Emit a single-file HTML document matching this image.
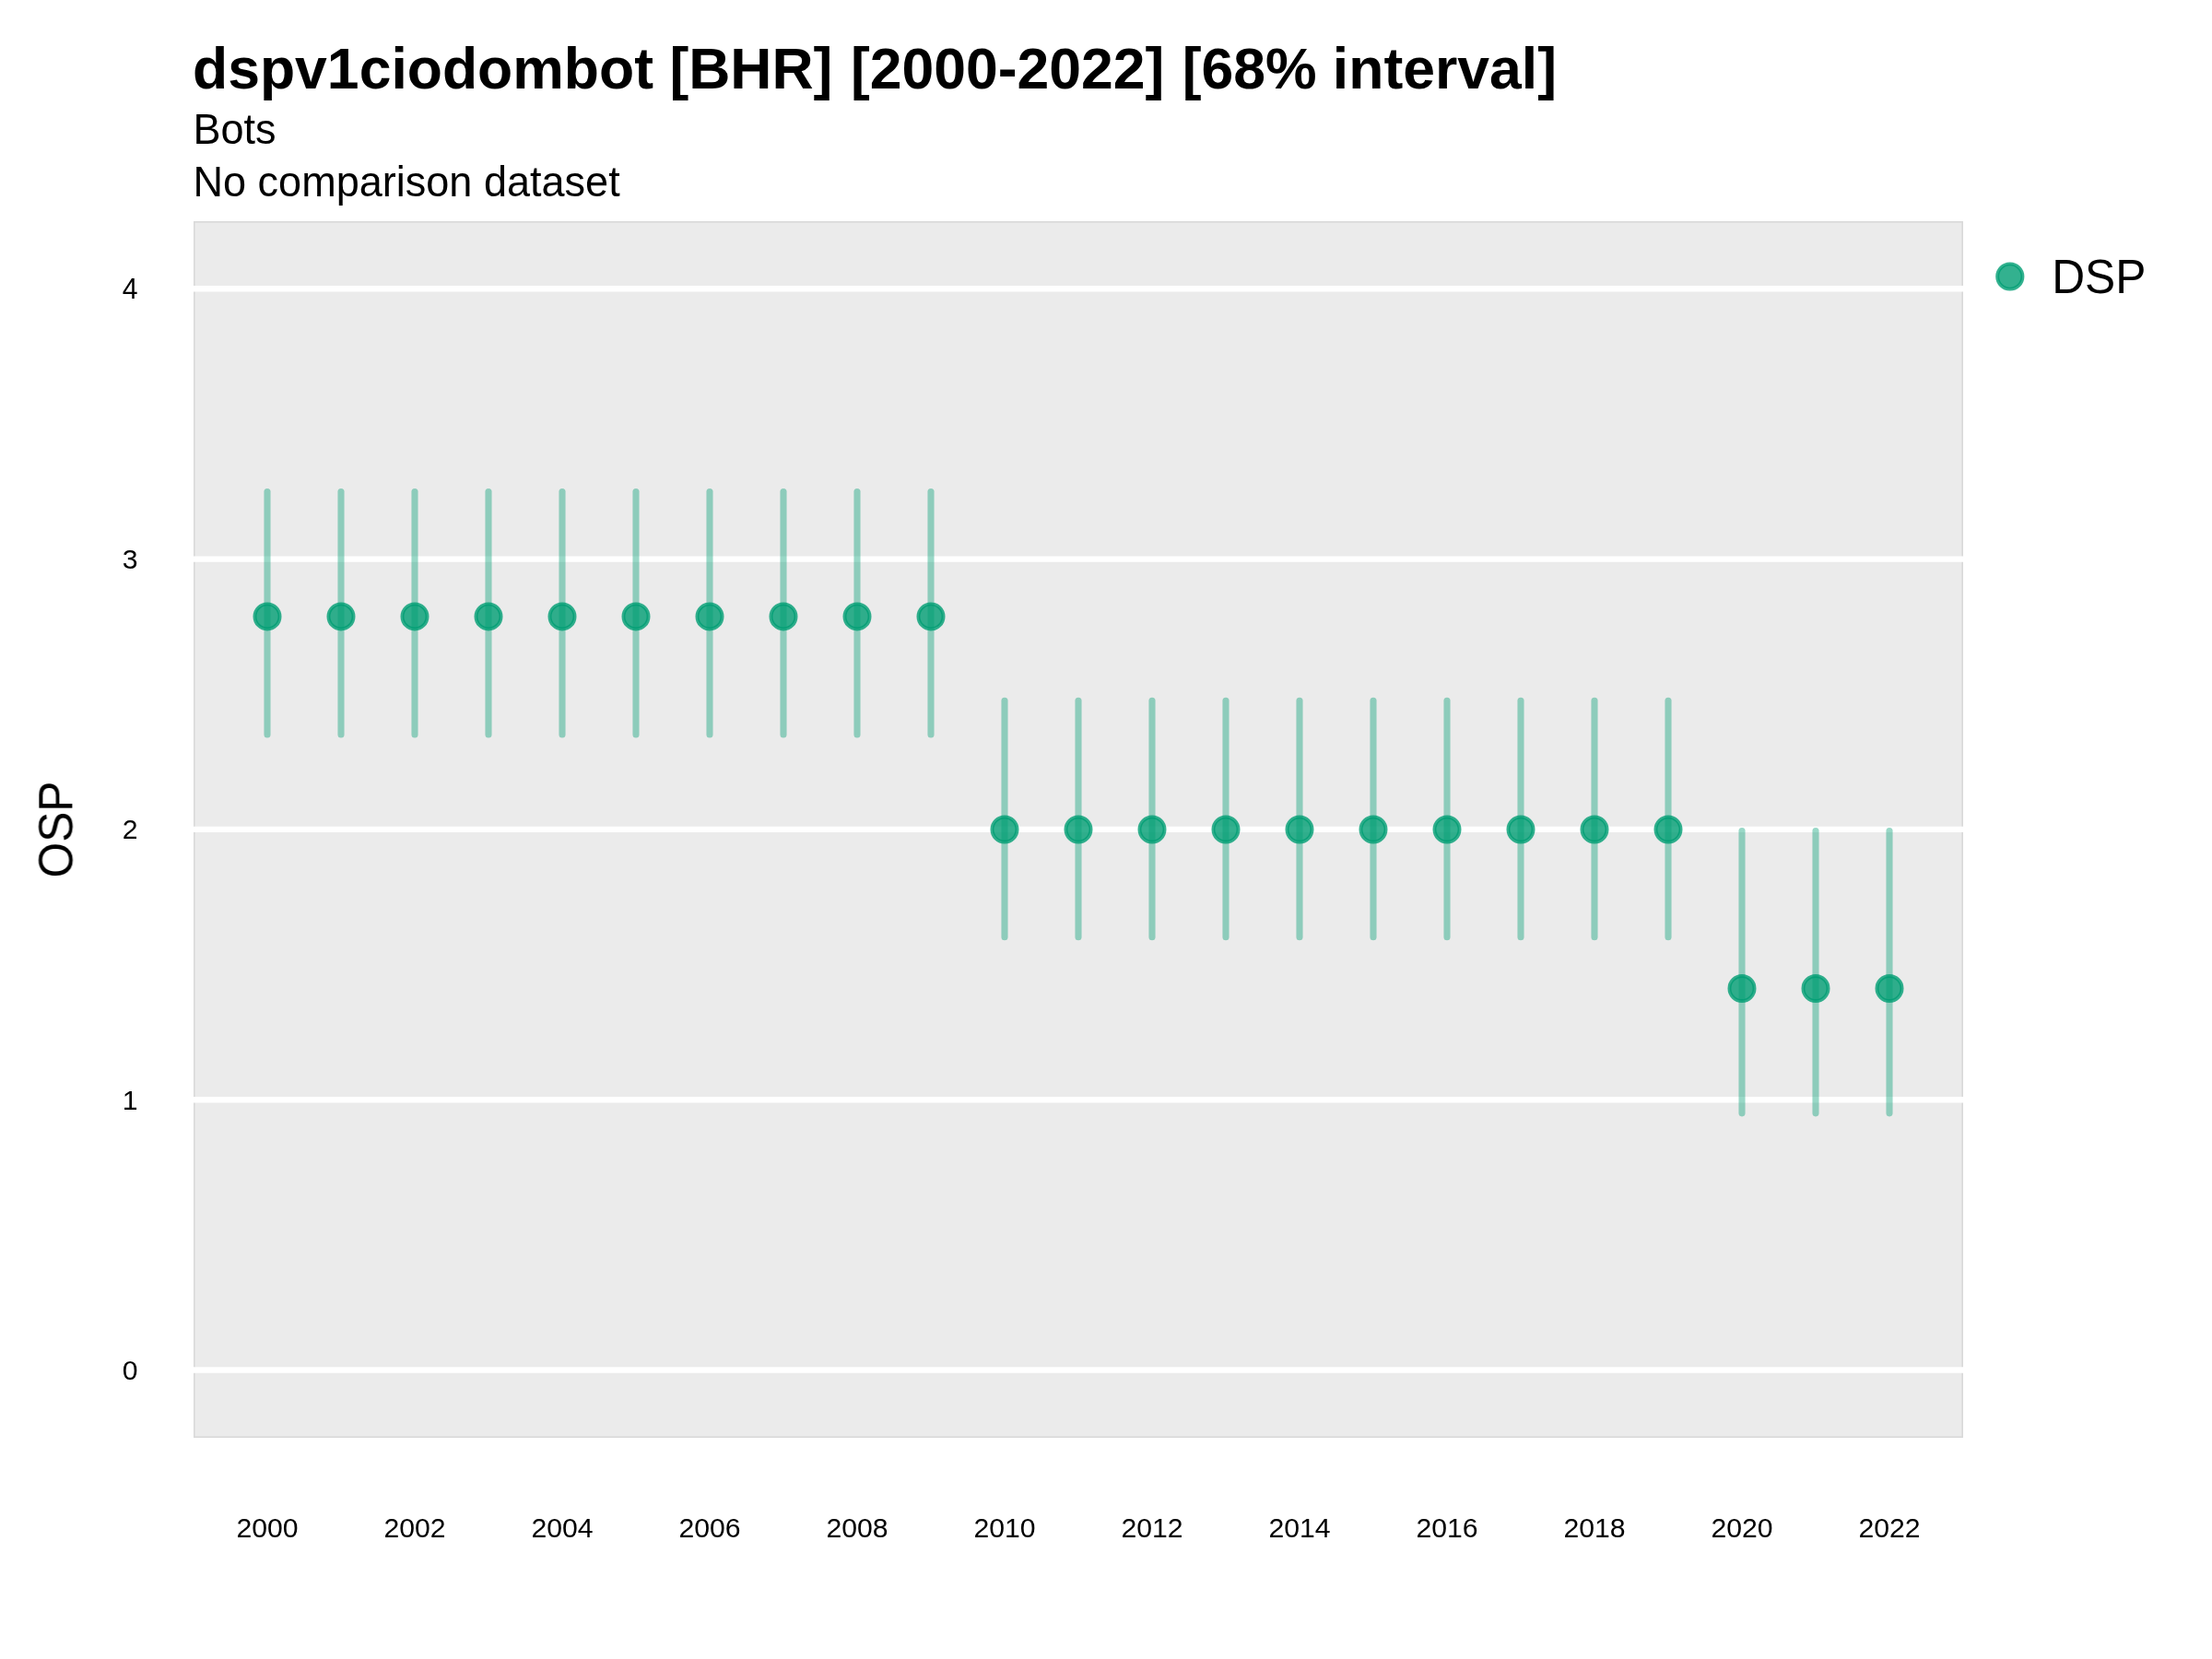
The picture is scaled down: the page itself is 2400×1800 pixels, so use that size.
<!DOCTYPE html>
<html><head><meta charset="utf-8"><title>dspv1ciodombot [BHR] [2000-2022] [68% interval]</title>
<style>
html,body{margin:0;padding:0;background:#fff;}
body{width:2400px;height:1800px;overflow:hidden;}
svg{display:block;}
text{font-family:"Liberation Sans",Arial,Helvetica,sans-serif;fill:#000;}
.tx{will-change:transform;}
</style></head><body>
<svg width="2400" height="1800" viewBox="0 0 2400 1800">
<rect x="0" y="0" width="2400" height="1800" fill="#ffffff"/>
<rect x="210.8" y="240.8" width="1918.4" height="1318.4" fill="#ebebeb" stroke="#d9d9d9" stroke-width="1.6"/>
<line x1="210" y1="1486.50" x2="2130" y2="1486.50" stroke="#ffffff" stroke-width="6.4"/>
<line x1="210" y1="1193.20" x2="2130" y2="1193.20" stroke="#ffffff" stroke-width="6.4"/>
<line x1="210" y1="899.90" x2="2130" y2="899.90" stroke="#ffffff" stroke-width="6.4"/>
<line x1="210" y1="606.60" x2="2130" y2="606.60" stroke="#ffffff" stroke-width="6.4"/>
<line x1="210" y1="313.30" x2="2130" y2="313.30" stroke="#ffffff" stroke-width="6.4"/>
<line x1="290.00" y1="533.55" x2="290.00" y2="796.95" stroke="#009e73" stroke-opacity="0.4" stroke-width="7.1" stroke-linecap="round"/>
<line x1="370.00" y1="533.55" x2="370.00" y2="796.95" stroke="#009e73" stroke-opacity="0.4" stroke-width="7.1" stroke-linecap="round"/>
<line x1="450.00" y1="533.55" x2="450.00" y2="796.95" stroke="#009e73" stroke-opacity="0.4" stroke-width="7.1" stroke-linecap="round"/>
<line x1="530.00" y1="533.55" x2="530.00" y2="796.95" stroke="#009e73" stroke-opacity="0.4" stroke-width="7.1" stroke-linecap="round"/>
<line x1="610.00" y1="533.55" x2="610.00" y2="796.95" stroke="#009e73" stroke-opacity="0.4" stroke-width="7.1" stroke-linecap="round"/>
<line x1="690.00" y1="533.55" x2="690.00" y2="796.95" stroke="#009e73" stroke-opacity="0.4" stroke-width="7.1" stroke-linecap="round"/>
<line x1="770.00" y1="533.55" x2="770.00" y2="796.95" stroke="#009e73" stroke-opacity="0.4" stroke-width="7.1" stroke-linecap="round"/>
<line x1="850.00" y1="533.55" x2="850.00" y2="796.95" stroke="#009e73" stroke-opacity="0.4" stroke-width="7.1" stroke-linecap="round"/>
<line x1="930.00" y1="533.55" x2="930.00" y2="796.95" stroke="#009e73" stroke-opacity="0.4" stroke-width="7.1" stroke-linecap="round"/>
<line x1="1010.00" y1="533.55" x2="1010.00" y2="796.95" stroke="#009e73" stroke-opacity="0.4" stroke-width="7.1" stroke-linecap="round"/>
<line x1="1090.00" y1="760.35" x2="1090.00" y2="1016.75" stroke="#009e73" stroke-opacity="0.4" stroke-width="7.1" stroke-linecap="round"/>
<line x1="1170.00" y1="760.35" x2="1170.00" y2="1016.75" stroke="#009e73" stroke-opacity="0.4" stroke-width="7.1" stroke-linecap="round"/>
<line x1="1250.00" y1="760.35" x2="1250.00" y2="1016.75" stroke="#009e73" stroke-opacity="0.4" stroke-width="7.1" stroke-linecap="round"/>
<line x1="1330.00" y1="760.35" x2="1330.00" y2="1016.75" stroke="#009e73" stroke-opacity="0.4" stroke-width="7.1" stroke-linecap="round"/>
<line x1="1410.00" y1="760.35" x2="1410.00" y2="1016.75" stroke="#009e73" stroke-opacity="0.4" stroke-width="7.1" stroke-linecap="round"/>
<line x1="1490.00" y1="760.35" x2="1490.00" y2="1016.75" stroke="#009e73" stroke-opacity="0.4" stroke-width="7.1" stroke-linecap="round"/>
<line x1="1570.00" y1="760.35" x2="1570.00" y2="1016.75" stroke="#009e73" stroke-opacity="0.4" stroke-width="7.1" stroke-linecap="round"/>
<line x1="1650.00" y1="760.35" x2="1650.00" y2="1016.75" stroke="#009e73" stroke-opacity="0.4" stroke-width="7.1" stroke-linecap="round"/>
<line x1="1730.00" y1="760.35" x2="1730.00" y2="1016.75" stroke="#009e73" stroke-opacity="0.4" stroke-width="7.1" stroke-linecap="round"/>
<line x1="1810.00" y1="760.35" x2="1810.00" y2="1016.75" stroke="#009e73" stroke-opacity="0.4" stroke-width="7.1" stroke-linecap="round"/>
<line x1="1890.00" y1="901.45" x2="1890.00" y2="1207.85" stroke="#009e73" stroke-opacity="0.4" stroke-width="7.1" stroke-linecap="round"/>
<line x1="1970.00" y1="901.45" x2="1970.00" y2="1207.85" stroke="#009e73" stroke-opacity="0.4" stroke-width="7.1" stroke-linecap="round"/>
<line x1="2050.00" y1="901.45" x2="2050.00" y2="1207.85" stroke="#009e73" stroke-opacity="0.4" stroke-width="7.1" stroke-linecap="round"/>
<circle cx="290.00" cy="668.90" r="13.15" fill="#009e73" fill-opacity="0.8"/><circle cx="290.00" cy="668.90" r="13.55" fill="none" stroke="#009e73" stroke-opacity="0.8" stroke-width="3.9"/>
<circle cx="370.00" cy="668.90" r="13.15" fill="#009e73" fill-opacity="0.8"/><circle cx="370.00" cy="668.90" r="13.55" fill="none" stroke="#009e73" stroke-opacity="0.8" stroke-width="3.9"/>
<circle cx="450.00" cy="668.90" r="13.15" fill="#009e73" fill-opacity="0.8"/><circle cx="450.00" cy="668.90" r="13.55" fill="none" stroke="#009e73" stroke-opacity="0.8" stroke-width="3.9"/>
<circle cx="530.00" cy="668.90" r="13.15" fill="#009e73" fill-opacity="0.8"/><circle cx="530.00" cy="668.90" r="13.55" fill="none" stroke="#009e73" stroke-opacity="0.8" stroke-width="3.9"/>
<circle cx="610.00" cy="668.90" r="13.15" fill="#009e73" fill-opacity="0.8"/><circle cx="610.00" cy="668.90" r="13.55" fill="none" stroke="#009e73" stroke-opacity="0.8" stroke-width="3.9"/>
<circle cx="690.00" cy="668.90" r="13.15" fill="#009e73" fill-opacity="0.8"/><circle cx="690.00" cy="668.90" r="13.55" fill="none" stroke="#009e73" stroke-opacity="0.8" stroke-width="3.9"/>
<circle cx="770.00" cy="668.90" r="13.15" fill="#009e73" fill-opacity="0.8"/><circle cx="770.00" cy="668.90" r="13.55" fill="none" stroke="#009e73" stroke-opacity="0.8" stroke-width="3.9"/>
<circle cx="850.00" cy="668.90" r="13.15" fill="#009e73" fill-opacity="0.8"/><circle cx="850.00" cy="668.90" r="13.55" fill="none" stroke="#009e73" stroke-opacity="0.8" stroke-width="3.9"/>
<circle cx="930.00" cy="668.90" r="13.15" fill="#009e73" fill-opacity="0.8"/><circle cx="930.00" cy="668.90" r="13.55" fill="none" stroke="#009e73" stroke-opacity="0.8" stroke-width="3.9"/>
<circle cx="1010.00" cy="668.90" r="13.15" fill="#009e73" fill-opacity="0.8"/><circle cx="1010.00" cy="668.90" r="13.55" fill="none" stroke="#009e73" stroke-opacity="0.8" stroke-width="3.9"/>
<circle cx="1090.00" cy="900.00" r="13.15" fill="#009e73" fill-opacity="0.8"/><circle cx="1090.00" cy="900.00" r="13.55" fill="none" stroke="#009e73" stroke-opacity="0.8" stroke-width="3.9"/>
<circle cx="1170.00" cy="900.00" r="13.15" fill="#009e73" fill-opacity="0.8"/><circle cx="1170.00" cy="900.00" r="13.55" fill="none" stroke="#009e73" stroke-opacity="0.8" stroke-width="3.9"/>
<circle cx="1250.00" cy="900.00" r="13.15" fill="#009e73" fill-opacity="0.8"/><circle cx="1250.00" cy="900.00" r="13.55" fill="none" stroke="#009e73" stroke-opacity="0.8" stroke-width="3.9"/>
<circle cx="1330.00" cy="900.00" r="13.15" fill="#009e73" fill-opacity="0.8"/><circle cx="1330.00" cy="900.00" r="13.55" fill="none" stroke="#009e73" stroke-opacity="0.8" stroke-width="3.9"/>
<circle cx="1410.00" cy="900.00" r="13.15" fill="#009e73" fill-opacity="0.8"/><circle cx="1410.00" cy="900.00" r="13.55" fill="none" stroke="#009e73" stroke-opacity="0.8" stroke-width="3.9"/>
<circle cx="1490.00" cy="900.00" r="13.15" fill="#009e73" fill-opacity="0.8"/><circle cx="1490.00" cy="900.00" r="13.55" fill="none" stroke="#009e73" stroke-opacity="0.8" stroke-width="3.9"/>
<circle cx="1570.00" cy="900.00" r="13.15" fill="#009e73" fill-opacity="0.8"/><circle cx="1570.00" cy="900.00" r="13.55" fill="none" stroke="#009e73" stroke-opacity="0.8" stroke-width="3.9"/>
<circle cx="1650.00" cy="900.00" r="13.15" fill="#009e73" fill-opacity="0.8"/><circle cx="1650.00" cy="900.00" r="13.55" fill="none" stroke="#009e73" stroke-opacity="0.8" stroke-width="3.9"/>
<circle cx="1730.00" cy="900.00" r="13.15" fill="#009e73" fill-opacity="0.8"/><circle cx="1730.00" cy="900.00" r="13.55" fill="none" stroke="#009e73" stroke-opacity="0.8" stroke-width="3.9"/>
<circle cx="1810.00" cy="900.00" r="13.15" fill="#009e73" fill-opacity="0.8"/><circle cx="1810.00" cy="900.00" r="13.55" fill="none" stroke="#009e73" stroke-opacity="0.8" stroke-width="3.9"/>
<circle cx="1890.00" cy="1072.50" r="13.15" fill="#009e73" fill-opacity="0.8"/><circle cx="1890.00" cy="1072.50" r="13.55" fill="none" stroke="#009e73" stroke-opacity="0.8" stroke-width="3.9"/>
<circle cx="1970.00" cy="1072.50" r="13.15" fill="#009e73" fill-opacity="0.8"/><circle cx="1970.00" cy="1072.50" r="13.55" fill="none" stroke="#009e73" stroke-opacity="0.8" stroke-width="3.9"/>
<circle cx="2050.00" cy="1072.50" r="13.15" fill="#009e73" fill-opacity="0.8"/><circle cx="2050.00" cy="1072.50" r="13.55" fill="none" stroke="#009e73" stroke-opacity="0.8" stroke-width="3.9"/>
<circle cx="2180.80" cy="300.00" r="13.25" fill="#009e73" fill-opacity="0.8"/><circle cx="2180.80" cy="300.00" r="13.65" fill="none" stroke="#009e73" stroke-opacity="0.8" stroke-width="3.9"/>
<g class="tx">
<text transform="translate(209.0,96.0)" style="font-size:62.5px;font-weight:bold">dspv1ciodombot [BHR] <tspan dx="2.1">[2000-2022]</tspan> <tspan dx="2.0">[68%</tspan> <tspan dx="-0.2">interval]</tspan></text>
<text transform="translate(209.5,155.8) scale(1,1.01)" style="font-size:45.05px">Bots</text>
<text transform="translate(209.5,212.7) scale(1,1.01)" style="font-size:45.05px">No comparison dataset</text>
<text transform="translate(149.6,1497.05)" text-anchor="end" style="font-size:30.2px">0</text>
<text transform="translate(149.6,1203.75)" text-anchor="end" style="font-size:30.2px">1</text>
<text transform="translate(149.6,910.45)" text-anchor="end" style="font-size:30.2px">2</text>
<text transform="translate(149.6,617.15)" text-anchor="end" style="font-size:30.2px">3</text>
<text transform="translate(149.6,323.85) scale(1,1.03)" text-anchor="end" style="font-size:30.2px">4</text>
<text transform="translate(290.0,1667.9)" text-anchor="middle" style="font-size:30.2px">2000</text>
<text transform="translate(450.0,1667.9)" text-anchor="middle" style="font-size:30.2px">2002</text>
<text transform="translate(610.0,1667.9)" text-anchor="middle" style="font-size:30.2px">2004</text>
<text transform="translate(770.0,1667.9)" text-anchor="middle" style="font-size:30.2px">2006</text>
<text transform="translate(930.0,1667.9)" text-anchor="middle" style="font-size:30.2px">2008</text>
<text transform="translate(1090.0,1667.9)" text-anchor="middle" style="font-size:30.2px">2010</text>
<text transform="translate(1250.0,1667.9)" text-anchor="middle" style="font-size:30.2px">2012</text>
<text transform="translate(1410.0,1667.9)" text-anchor="middle" style="font-size:30.2px">2014</text>
<text transform="translate(1570.0,1667.9)" text-anchor="middle" style="font-size:30.2px">2016</text>
<text transform="translate(1730.0,1667.9)" text-anchor="middle" style="font-size:30.2px">2018</text>
<text transform="translate(1890.0,1667.9)" text-anchor="middle" style="font-size:30.2px">2020</text>
<text transform="translate(2050.0,1667.9)" text-anchor="middle" style="font-size:30.2px">2022</text>
<text transform="translate(78.0,900.0) rotate(-90) scale(1,1.035)" text-anchor="middle" style="font-size:49.7px">OSP</text>
<text transform="translate(2226.2,317.85) scale(1,1.035)" style="font-size:49.7px">DSP</text>
</g>
</svg>
</body></html>
